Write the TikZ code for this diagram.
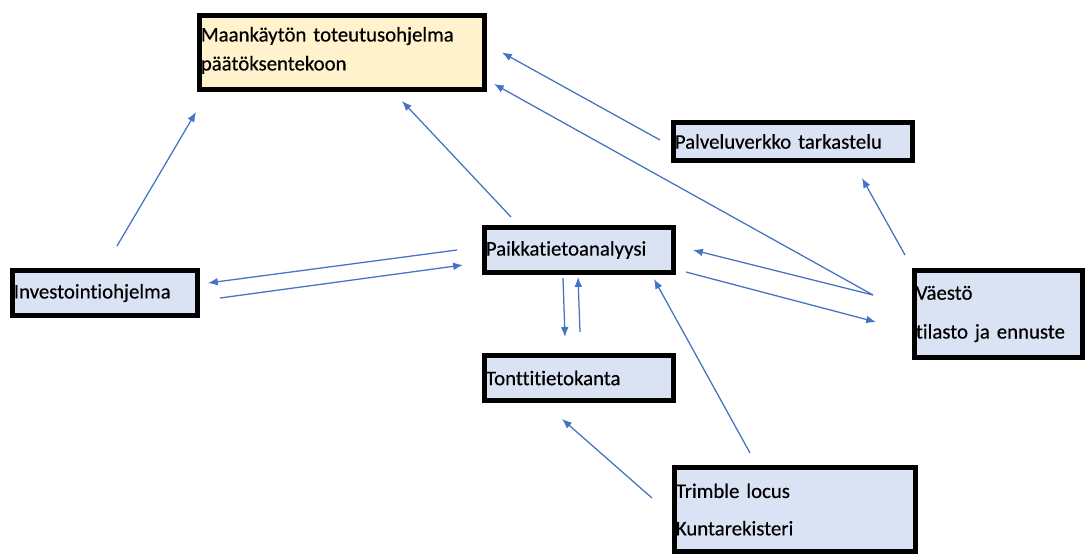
\documentclass[tikz,border=0pt]{standalone}
\usepackage{fontspec}
\setmainfont{Carlito}[Ligatures=NoCommon, FakeBold=0.4]
\usetikzlibrary{calc, arrows.meta}
\definecolor{boxblue}{HTML}{DAE3F3}
\definecolor{boxyellow}{HTML}{FFF2CC}
\definecolor{flowblue}{HTML}{4472C4}
\newlength{\px}
\setlength{\px}{0.025cm}
\tikzset{
  plan box/.style={draw=black, line width=3.5pt, fill=boxblue, inner xsep=1pt, inner ysep=0pt,
    align=left, font=\fontsize{14.8}{20.6}\selectfont},
  box size/.style 2 args={text width={#1\px-5.5pt}, minimum height={#2\px-3.5pt}},
  flow line/.style={->, line width=0.9pt, flowblue},
  >={Latex[length=7pt, width=5.5pt]},
}

\begin{document}
\begin{tikzpicture}[x=1\px, y=-1\px]
  \useasboundingbox (0,0) rectangle (1085,554);
  % boxes
  \node[plan box, fill=boxyellow, box size={290}{79}] (mtoh) at (342,52.5) {Maankäytön toteutusohjelma\\päätöksentekoon\vspace{3pt}};
  \node[plan box, box size={244}{43}] (palv) at (793,141.5) {Palveluverkko tarkastelu};
  \node[plan box, box size={190}{50}] (inv) at (105,293) {Investointiohjelma};
  \node[plan box, box size={194}{50}] (paik) at (579,250) {Paikkatietoanalyysi};
  \node[plan box, box size={194}{50}] (tontti) at (579,378) {Tonttitietokanta};
  \node[plan box, box size={173}{92}] (vaesto) at (998.5,314) {Väestö\\[7pt]tilasto ja ennuste};
  \node[plan box, box size={246}{89}] (trimble) at (795,509.5) {Trimble locus\\[6pt]Kuntarekisteri};
  % connectors
  \draw[flow line] ($(inv.north)+(12,-22)$) -- ($(mtoh.south west)+(-1,20)$);
  \draw[flow line] ($(paik.north west)+(29,-8)$) -- ($(mtoh.south)+(60,9)$);
  \draw[flow line] ($(palv.west)+(-11,-1.5)$) -- ($(mtoh.east)+(15,0)$);
  \draw[flow line] ($(vaesto.west)+(-39,-19)$) -- ($(mtoh.south east)+(7,-8)$);
  \draw[flow line] ($(vaesto.west)+(-39,-19)$) -- ($(paik.east)+(17,0)$);
  \draw[flow line] ($(paik.south east)+(10,-3)$) -- ($(vaesto.west)+(-36,8)$);
  \draw[flow line] ($(vaesto.north west)+(-7,-13)$) -- ($(palv.south)+(69,15)$);
  \draw[flow line] ($(paik.west)+(-25,0)$) -- ($(inv.east)+(8,-10)$);
  \draw[flow line] ($(inv.east)+(20,5)$) -- ($(paik.west)+(-19,15)$);
  \draw[flow line] ($(paik.south)+(-16,3)$) -- ($(tontti.north)+(-14,-16)$);
  \draw[flow line] ($(tontti.north)+(1,-21)$) -- ($(paik.south)+(-1,2)$);
  \draw[flow line] ($(trimble.north)+(-45,-12)$) -- ($(paik.south east)+(-22,4)$);
  \draw[flow line] ($(trimble.west)+(-20,-11.5)$) -- ($(tontti.south)+(-17,16)$);
\end{tikzpicture}
\end{document}
